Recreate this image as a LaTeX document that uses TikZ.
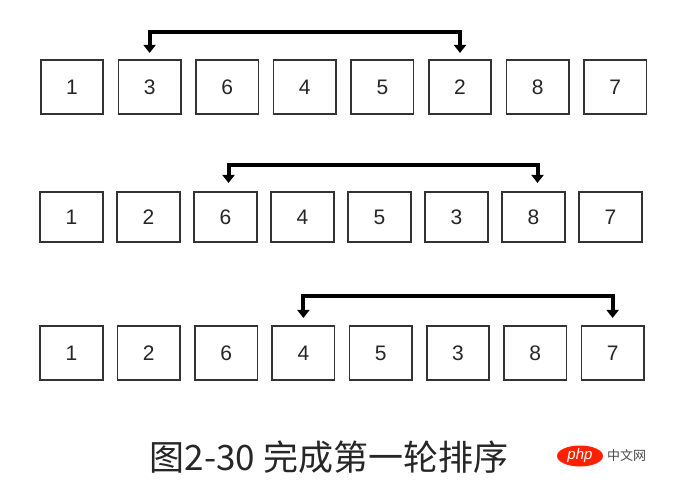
\documentclass[tikz,border=0pt]{standalone}
\usepackage{fontspec}
\setmainfont{Liberation Sans}
\newfontfamily\cjk{Noto Sans CJK SC}
\usetikzlibrary{arrows.meta,shapes.geometric}
\tikzset{
  cell/.style={draw=black!80, line width=1.6pt, minimum width=62.5pt, minimum height=54.5pt, inner sep=0pt, font=\fontsize{21pt}{21pt}\selectfont, text=black!85},
  cellb/.style={cell, minimum height=50.5pt},
  swaparrow/.style={line width=4pt, black, {Triangle[width=12pt,length=8pt]}-{Triangle[width=12pt,length=8pt]}}
}
\begin{document}
\begin{tikzpicture}[x=1pt,y=-1pt]
\useasboundingbox[fill=white] (0,0) rectangle (696,489);
% row 1
\foreach \v [count=\i] in {1,3,6,4,5,2,8,7} {
  \node[cell] (a\i) at ({72+77.6*(\i-1)},87) {\v};
}
% row 2
\foreach \v [count=\i] in {1,2,6,4,5,3,8,7} {
  \node[cellb] (b\i) at ({71.5+77*(\i-1)},217) {\v};
}
% row 3
\foreach \v [count=\i] in {1,2,6,4,5,3,8,7} {
  \node[cell] (c\i) at ({71.5+77.3*(\i-1)},353) {\v};
}
\draw[swaparrow] ([yshift=6pt]a2.north) -- ([yshift=27pt]a2.north) -| ([yshift=6pt]a6.north);
\draw[swaparrow] ([xshift=3pt,yshift=8pt]b3.north) -- ([xshift=3pt,yshift=26pt]b3.north) -| ([xshift=4pt,yshift=8pt]b7.north);
\draw[swaparrow] ([yshift=7pt]c4.north) -- ([yshift=29pt]c4.north) -| ([yshift=7pt]c8.north);
% caption
\node[anchor=center, inner sep=0pt, text=black!85, font=\cjk\fontsize{35pt}{35pt}\selectfont] (cap) at (329,457) {图2-30 完成第一轮排序};
% watermark
\node[ellipse, fill=red!75!orange, minimum width=46pt, minimum height=21pt, inner sep=0pt, text=white, font=\fontsize{15pt}{15pt}\selectfont\itshape] (wm) at (580,456) {php};
\node[anchor=west, inner sep=0pt, text=black!70, font=\cjk\fontsize{13pt}{13pt}\selectfont] (wmt) at (607,456) {中文网};
\end{tikzpicture}
\end{document}
